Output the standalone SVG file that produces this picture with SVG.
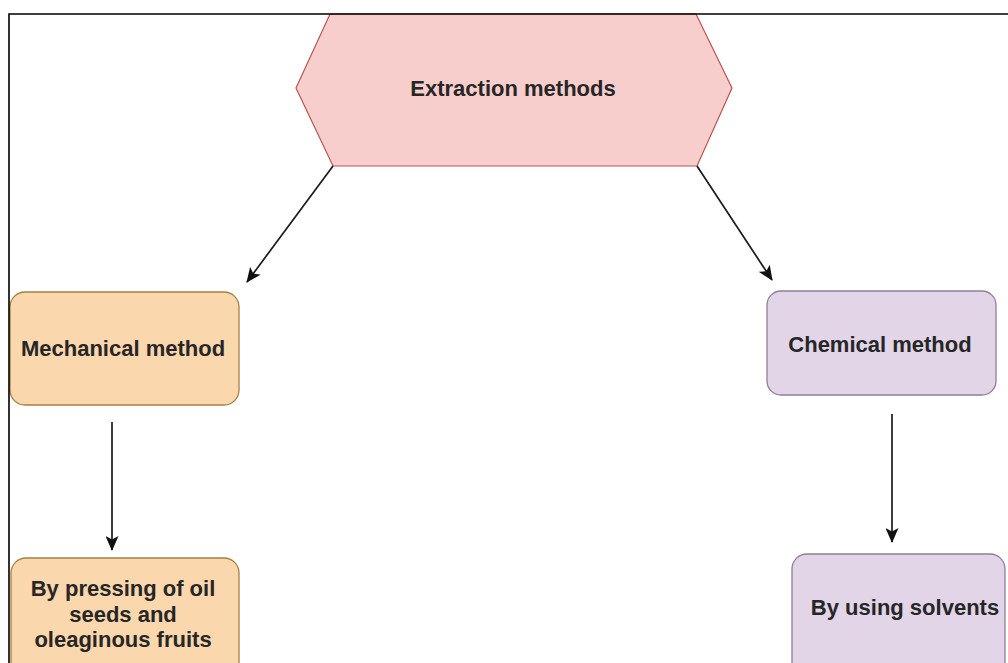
<svg xmlns="http://www.w3.org/2000/svg" width="1008" height="663" viewBox="0 0 1008 663">
  <style>
    .lbl { font-family: "Liberation Sans", Arial, sans-serif; font-size: 22px; font-weight: bold; fill: #262626; text-anchor: middle; }
    .hex { fill: #f8cecc; stroke: #b85450; stroke-width: 1.2; }
    .orange { fill: #fad7ac; stroke: #a6803f; stroke-width: 1.3; }
    .purple { fill: #e1d5e7; stroke: #8f7f98; stroke-width: 1.3; }
    .conn { stroke: #1a1a1a; stroke-width: 1.7; fill: none; marker-end: url(#arrow); }
    .frame { stroke: #000000; stroke-width: 1.6; fill: none; }
  </style>
  <defs>
    <marker id="arrow" markerUnits="userSpaceOnUse" markerWidth="15" markerHeight="13" viewBox="0 0 15 13" refX="14" refY="6.5" orient="auto">
      <path d="M0,0 L15,6.5 L0,13 L3.5,6.5 Z" fill="#111111"/>
    </marker>
  </defs>
  <rect x="0" y="0" width="1008" height="663" fill="#ffffff"/>

  <g id="extraction">
    <polygon class="hex" points="330,14 696,14 732,88 697,166 333,166 296,88"/>
    <text class="lbl" x="513" y="96">Extraction methods</text>
  </g>

  <g id="mechanical">
    <rect class="orange" x="10" y="292" width="229" height="113" rx="15" ry="15"/>
    <text class="lbl" x="123" y="356">Mechanical method</text>
  </g>

  <g id="chemical">
    <rect class="purple" x="767" y="291" width="229" height="104" rx="14" ry="14"/>
    <text class="lbl" x="880" y="352">Chemical method</text>
  </g>

  <g id="pressing">
    <rect class="orange" x="11" y="558" width="228" height="130" rx="15" ry="15"/>
    <text class="lbl" x="123" y="596">By pressing of oil</text>
    <text class="lbl" x="123" y="622">seeds and</text>
    <text class="lbl" x="123" y="647">oleaginous fruits</text>
  </g>

  <g id="solvents">
    <rect class="purple" x="792" y="554" width="213" height="130" rx="15" ry="15"/>
    <text class="lbl" x="905" y="615">By using solvents</text>
  </g>

  <g id="connectors">
    <line class="conn" x1="333" y1="166" x2="247" y2="282"/>
    <line class="conn" x1="697" y1="166" x2="772" y2="280"/>
    <line class="conn" x1="112" y1="422" x2="112" y2="550"/>
    <line class="conn" x1="892" y1="414" x2="892" y2="542"/>
  </g>

  <g id="frame">
    <polyline class="frame" points="9,663 9,14 1008,14"/>
  </g>
</svg>
